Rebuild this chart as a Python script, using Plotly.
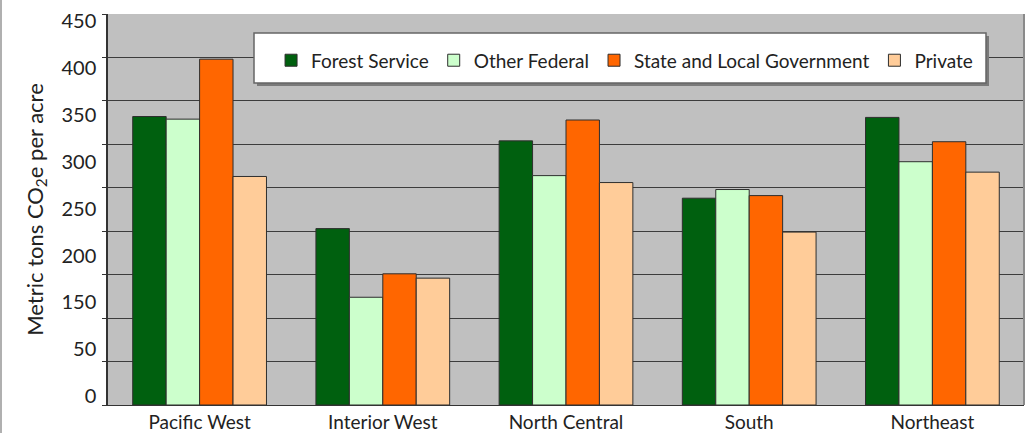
import plotly.graph_objects as go

# Regions along the x axis
regions = ["Pacific West", "Interior West", "North Central", "South", "Northeast"]

# Carbon stocks by owner group (metric tons CO2e per acre)
forest_service = [332, 203, 304, 238, 331]
other_federal = [329, 124, 264, 248, 280]
state_local = [398, 151, 328, 241, 303]
private = [263, 146, 256, 199, 268]

series_names = ["Forest Service", "Other Federal", "State and Local Government", "Private"]
series_values = [forest_service, other_federal, state_local, private]
series_colors = ["#00600f", "#ccffcc", "#ff6600", "#ffcc99"]

# Y tick labels and where they are printed along the value axis
y_tick_text = ["0", "50", "150", "200", "250", "300", "350", "400", "450"]
y_tick_pos = [10, 64, 118, 172, 226, 280, 334, 388, 442]

FONT = "Lato"
TEXT = "#222222"

fig = go.Figure()
for name, vals, col in zip(series_names, series_values, series_colors):
    fig.add_trace(go.Bar(
        name=name, x=regions, y=vals,
        marker=dict(color=col, line=dict(color="#2e2e2e", width=1)),
    ))

fig.update_layout(
    width=1031, height=433,
    margin=dict(l=108, r=7, t=14, b=28),
    paper_bgcolor="white",
    plot_bgcolor="#c0c0c0",
    barmode="group",
    bargap=0.27,
    bargroupgap=0,
    font=dict(family=FONT, size=19, color=TEXT),
    showlegend=True,
    legend=dict(
        orientation="h",
        x=0.178, y=0.93, xanchor="left", yanchor="top",
        bgcolor="rgba(0,0,0,0)", borderwidth=0,
        font=dict(family=FONT, size=19, color=TEXT),
        itemwidth=30,
    ),
    shapes=[
        # legend frame with drop shadow
        dict(type="rect", xref="paper", yref="paper",
             x0=(257 - 108) / 916, x1=(989 - 108) / 916,
             y0=1 - (86 - 14) / 391, y1=1 - (36 - 14) / 391,
             fillcolor="#7a7a7a", line=dict(width=0), layer="above"),
        dict(type="rect", xref="paper", yref="paper",
             x0=(254 - 108) / 916, x1=(986 - 108) / 916,
             y0=1 - (83 - 14) / 391, y1=1 - (33 - 14) / 391,
             fillcolor="white", line=dict(color="#666666", width=1.5), layer="above"),
        # right edge of the plot area
        dict(type="line", xref="paper", yref="paper", x0=1, x1=1, y0=0, y1=1,
             line=dict(color="#8a8a8a", width=2), layer="above"),
        # outer frame line on the left
        dict(type="line", xref="paper", yref="paper",
             x0=-107 / 916, x1=-107 / 916, y0=-28 / 391, y1=1 + 14 / 391,
             line=dict(color="#b0b0b0", width=2), layer="above"),
    ],
)

fig.update_xaxes(
    automargin=False,
    showline=True, linecolor="#333333", linewidth=1,
    ticks="outside", ticklen=0, tickson="boundaries",
    showgrid=False,
    ticklabelstandoff=0,
    tickfont=dict(family=FONT, size=19, color=TEXT),
)

fig.update_yaxes(
    automargin=False,
    range=[0, 450],
    showline=True, linecolor="#333333", linewidth=1.5,
    tickvals=y_tick_pos, ticktext=y_tick_text,
    ticks="", showgrid=False, zeroline=False,
    tickfont=dict(family=FONT, size=20, color=TEXT),
    ticklabelstandoff=6,
    minor=dict(dtick=50, tick0=0, showgrid=True, gridcolor="#3c3c3c", gridwidth=1.3,
               ticks="outside", ticklen=4, tickcolor="#333333"),
    title=dict(text="Metric tons CO<sub>2</sub>e per acre",
               font=dict(family=FONT, size=22, color=TEXT), standoff=12),
)

fig.write_html("out.html")
